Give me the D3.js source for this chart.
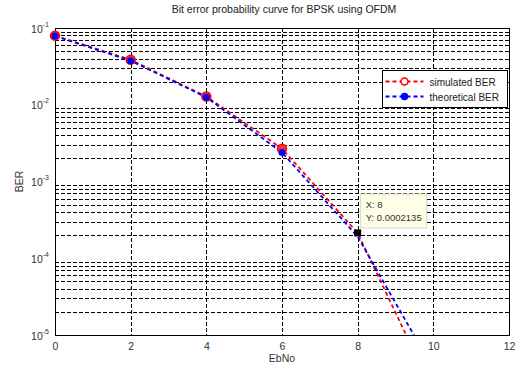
<!DOCTYPE html>
<html>
<head>
<meta charset="utf-8">
<script src="https://cdn.jsdelivr.net/npm/d3@7"></script>
<style>
  body { margin: 0; background: #fff; }
  svg { font-family: 'Liberation Sans', Arial, sans-serif; }
</style>
</head>
<body>
<svg id="chart" width="516" height="368"></svg>
<script>
const ebNo = [0, 2, 4, 6, 8, 10]
const simulatedBer = [0.0795, 0.0385, 0.0128, 0.00268, 0.0002135, 0.0000018]
const theoreticalBer = [0.0786, 0.0375, 0.0125, 0.00239, 0.000191, 0.0000036]
const xTicks = [0, 2, 4, 6, 8, 10, 12]
const yDecades = [-1, -2, -3, -4, -5]
const tipPoint = { x: 8, y: 0.0002135 }

const svg = d3.select('#chart')
const margin = { left: 55, right: 7, top: 28, bottom: 33 }
const width = 516, height = 368

const xScale = d3.scaleLinear()
  .domain([0, 12])
  .range([margin.left, width - margin.right])

const yScale = d3.scaleLog()
  .domain([1e-5, 1e-1])
  .range([height - margin.bottom, margin.top])

// minor grid values 2..9 x each decade
const minorVals = []
for (let e = -5; e < -1; e++) {
  for (let m = 2; m <= 9; m++) minorVals.push(m * Math.pow(10, e))
}

const grid = svg.append('g')
  .attr('stroke', '#000')
  .attr('stroke-width', 1)
  .attr('stroke-dasharray', '4,2')
grid.selectAll('.hline')
  .data(minorVals)
  .join('line')
  .attr('x1', xScale(0)).attr('x2', xScale(12))
  .attr('y1', d => Math.round(yScale(d)) + 0.5)
  .attr('y2', d => Math.round(yScale(d)) + 0.5)
grid.selectAll('.vline')
  .data(xTicks.slice(1, -1))
  .join('line')
  .attr('y1', yScale(1e-1)).attr('y2', yScale(1e-5))
  .attr('x1', d => Math.round(xScale(d)) + 0.5)
  .attr('x2', d => Math.round(xScale(d)) + 0.5)

// frame
svg.append('rect')
  .attr('x', xScale(0) + 0.5).attr('y', yScale(1e-1) + 0.5)
  .attr('width', xScale(12) - xScale(0)).attr('height', yScale(1e-5) - yScale(1e-1))
  .attr('fill', 'none').attr('stroke', '#000').attr('stroke-width', 1)

// axes
const xAxis = d3.axisBottom(xScale).tickValues(xTicks).tickSize(0).tickPadding(6).tickFormat(d3.format('d'))
svg.append('g')
  .attr('transform', `translate(0,${yScale(1e-5)})`)
  .call(xAxis)
  .call(g => g.select('.domain').remove())
  .call(g => g.selectAll('.tick text').attr('font-size', 10.5).attr('fill', '#333').attr('dy', '0.9em'))

const yAxis = d3.axisLeft(yScale).tickValues(yDecades.map(e => Math.pow(10, e))).tickSize(0).tickFormat('')
const yg = svg.append('g')
  .attr('transform', `translate(${xScale(0)},0)`)
  .call(yAxis)
yg.select('.domain').remove()
yg.selectAll('.tick').each(function (d) {
  const t = d3.select(this).append('text')
    .attr('x', -6).attr('y', 4)
    .attr('text-anchor', 'end')
    .attr('fill', '#333')
    .attr('font-size', 10.5)
  t.append('tspan').text('10')
  t.append('tspan').attr('dy', -6).attr('font-size', 7).text(Math.round(Math.log10(d)))
})

// clip so lines stop at bottom axis
svg.append('clipPath').attr('id', 'lineClip')
  .append('rect')
  .attr('x', xScale(0) - 6).attr('y', yScale(1e-1) - 6)
  .attr('width', xScale(12) - xScale(0) + 6)
  .attr('height', yScale(1e-5) - yScale(1e-1) + 6)

const lineGenerator = d3.line()
  .x((d, i) => xScale(ebNo[i]))
  .y(d => yScale(d))

const plot = svg.append('g').attr('clip-path', 'url(#lineClip)')
plot.append('path')
  .datum(simulatedBer)
  .attr('d', lineGenerator)
  .attr('fill', 'none').attr('stroke', '#ff0000').attr('stroke-width', 1.8).attr('stroke-dasharray', '4,3')
plot.append('path')
  .datum(theoreticalBer)
  .attr('d', lineGenerator)
  .attr('fill', 'none').attr('stroke', '#0000ff').attr('stroke-width', 1.8).attr('stroke-dasharray', '4,3')

plot.selectAll('.simMark')
  .data(simulatedBer.slice(0, 4))
  .join('circle')
  .attr('cx', (d, i) => xScale(ebNo[i]))
  .attr('cy', d => yScale(d))
  .attr('r', 4.5)
  .attr('fill', '#ff3030').attr('stroke', '#ff0000').attr('stroke-width', 1.5)
plot.selectAll('.theoMark')
  .data(theoreticalBer.slice(0, 4))
  .join('circle')
  .attr('cx', (d, i) => xScale(ebNo[i]))
  .attr('cy', d => yScale(d))
  .attr('r', 3.5)
  .attr('fill', '#0000ff')

// data tip
const tx = xScale(tipPoint.x), ty = yScale(tipPoint.y)
svg.append('rect')
  .attr('x', tx - 3.5).attr('y', ty - 3.5).attr('width', 7).attr('height', 7)
  .attr('fill', '#000')
const tip = svg.append('g').attr('transform', `translate(${tx + 3},${ty - 39})`)
tip.append('rect')
  .attr('width', 66).attr('height', 34)
  .attr('fill', '#ffffe6').attr('stroke', '#d8d8c8')
tip.append('text').attr('x', 5).attr('y', 14).attr('font-size', 9.5).attr('fill', '#333').text(`X: ${tipPoint.x}`)
tip.append('text').attr('x', 5).attr('y', 27).attr('font-size', 9.5).attr('fill', '#333').text(`Y: ${tipPoint.y}`)

// legend
const legend = svg.append('g').attr('transform', 'translate(382.5,70.5)')
legend.append('rect')
  .attr('width', 125).attr('height', 37)
  .attr('fill', '#fff').attr('stroke', '#000')
const entries = [
  { label: 'simulated BER', color: '#ff0000', marker: 'circle' },
  { label: 'theoretical BER', color: '#0000ff', marker: 'dot' }
]
entries.forEach((e, i) => {
  const y = 11 + i * 15
  legend.append('line')
    .attr('x1', 3).attr('x2', 41).attr('y1', y).attr('y2', y)
    .attr('stroke', e.color).attr('stroke-width', 1.8).attr('stroke-dasharray', '4,3')
  legend.append('circle')
    .attr('cx', 22).attr('cy', y).attr('r', e.marker === 'circle' ? 3.5 : 3)
    .attr('fill', e.marker === 'circle' ? '#fff' : e.color)
    .attr('stroke', e.color).attr('stroke-width', 1.5)
  legend.append('text')
    .attr('x', 47).attr('y', y + 4)
    .attr('font-size', 10).attr('fill', '#222')
    .text(e.label)
})

// title and labels
svg.append('text')
  .attr('x', (xScale(0) + xScale(12)) / 2 + 2).attr('y', 13)
  .attr('text-anchor', 'middle').attr('font-size', 10.5).attr('fill', '#222')
  .text('Bit error probability curve for BPSK using OFDM')
svg.append('text')
  .attr('x', (xScale(0) + xScale(12)) / 2).attr('y', 362)
  .attr('text-anchor', 'middle').attr('font-size', 10.5).attr('fill', '#333')
  .text('EbNo')
svg.append('text')
  .attr('transform', `translate(23,${(yScale(1e-1) + yScale(1e-5)) / 2}) rotate(-90)`)
  .attr('text-anchor', 'middle').attr('font-size', 10.5).attr('fill', '#333')
  .text('BER')
</script>
</body>
</html>
